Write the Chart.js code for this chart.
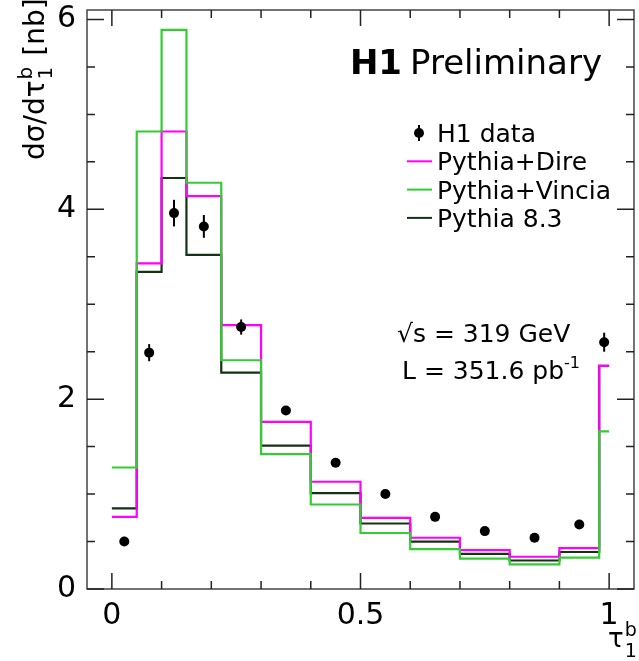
<!DOCTYPE html>
<html><head><meta charset="utf-8">
<script src="https://cdn.jsdelivr.net/npm/chart.js@4.4.0/dist/chart.umd.min.js"></script>
<style>html,body{margin:0;padding:0;background:#fff;}canvas{display:block;}</style>
</head><body>
<canvas id="c" width="639" height="661"></canvas>
<script>
// ---- data ----
const binEdges = [0, 0.05, 0.1, 0.15, 0.22, 0.3, 0.4, 0.5, 0.6, 0.7, 0.8, 0.9, 0.98, 1.0];
const direValues   = [0.76, 3.43, 4.82, 4.14, 2.78, 1.76, 1.13, 0.75, 0.54, 0.41, 0.34, 0.43, 2.35];
const vinciaValues = [1.28, 4.82, 5.89, 4.28, 2.41, 1.42, 0.89, 0.59, 0.42, 0.32, 0.26, 0.33, 1.66];
const pythiaValues = [0.85, 3.34, 4.33, 3.52, 2.28, 1.51, 1.01, 0.69, 0.50, 0.37, 0.30, 0.39, 2.35];
const dataX   = [0.025, 0.075, 0.125, 0.185, 0.26, 0.35, 0.45, 0.55, 0.65, 0.75, 0.85, 0.94, 0.99];
const dataY   = [0.50, 2.49, 3.96, 3.82, 2.76, 1.88, 1.33, 1.00, 0.76, 0.61, 0.54, 0.68, 2.60];
const dataErr = [0.02, 0.09, 0.14, 0.12, 0.08, 0.04, 0.03, 0.03, 0.02, 0.02, 0.02, 0.03, 0.10];
const xTickValues = [0, 0.5, 1];
const yTickValues = [0, 2, 4, 6];
const seriesLabels = ['H1 data', 'Pythia+Dire', 'Pythia+Vincia', 'Pythia 8.3'];

const FONT = "'DejaVu Sans', sans-serif";
const C_DIRE = '#ff00ff', C_VINCIA = '#33cc33', C_PYTHIA = '#143214';

function stepPoints(values) {
  return binEdges.map((e, i) => ({ x: e, y: values[Math.min(i, values.length - 1)] }));
}

function drawRich(ctx, parts, x, y) {
  let cx = x;
  parts.forEach(p => {
    ctx.font = (p.bold ? 'bold ' : '') + p.size + 'px ' + FONT;
    if (!p.stack) {
      ctx.fillText(p.t, cx, y + (p.dy || 0));
      cx += ctx.measureText(p.t).width + (p.gap || 0);
    } else {
      const w1 = ctx.measureText(p.t).width, w2 = ctx.measureText(p.t2).width;
      ctx.fillText(p.t, cx, y + p.dy);
      ctx.fillText(p.t2, cx, y + p.dy2);
      cx += Math.max(w1, w2) + (p.gap || 0);
    }
  });
  return cx;
}

const decor = {
  id: 'decor',
  afterDatasetsDraw(chart) {
    const { ctx, scales: { x, y } } = chart;
    ctx.save();
    ctx.strokeStyle = '#000'; ctx.lineWidth = 2;
    dataX.forEach((xv, i) => {
      const px = x.getPixelForValue(xv);
      ctx.beginPath();
      ctx.moveTo(px, y.getPixelForValue(dataY[i] - dataErr[i]));
      ctx.lineTo(px, y.getPixelForValue(dataY[i] + dataErr[i]));
      ctx.stroke();
    });
    ctx.restore();
  },
  afterDraw(chart) {
    const { ctx, chartArea: a, scales: { x, y } } = chart;
    ctx.save();
    ctx.strokeStyle = '#444'; ctx.lineWidth = 1.5;
    ctx.strokeRect(a.left, a.top, a.right - a.left, a.bottom - a.top);
    ctx.strokeStyle = '#222'; ctx.lineWidth = 1.5;
    ctx.beginPath();
    for (let k = 0; k <= 10; k++) {
      const px = x.getPixelForValue(k / 10);
      const len = (k % 5 === 0) ? 16 : 8;
      ctx.moveTo(px, a.bottom); ctx.lineTo(px, a.bottom - len);
      ctx.moveTo(px, a.top); ctx.lineTo(px, a.top + len);
    }
    for (let k = 0; k <= 12; k++) {
      const py = y.getPixelForValue(k * 0.5);
      const len = (k % 4 === 0) ? 17 : 8;
      ctx.moveTo(a.left, py); ctx.lineTo(a.left + len, py);
      ctx.moveTo(a.right, py); ctx.lineTo(a.right - len, py);
    }
    ctx.stroke();

    ctx.fillStyle = '#000';
    ctx.textBaseline = 'alphabetic';
    ctx.font = 'bold 34px ' + FONT;
    ctx.textAlign = 'right';
    ctx.fillText('H1', 402, 74);
    ctx.textAlign = 'left';
    ctx.font = '34px ' + FONT;
    ctx.fillText('Preliminary', 410, 74);

    const rows = [133, 161.3, 189.6, 217.9];
    const cols = [null, C_DIRE, C_VINCIA, C_PYTHIA];
    rows.forEach((ry, i) => {
      if (i === 0) {
        ctx.beginPath(); ctx.arc(419, ry, 5, 0, Math.PI * 2); ctx.fill();
        ctx.strokeStyle = '#000'; ctx.lineWidth = 2;
        ctx.beginPath(); ctx.moveTo(419, ry - 8); ctx.lineTo(419, ry + 8); ctx.stroke();
      } else {
        ctx.strokeStyle = cols[i]; ctx.lineWidth = 2;
        ctx.beginPath(); ctx.moveTo(407, ry); ctx.lineTo(432, ry); ctx.stroke();
      }
      ctx.font = '25px ' + FONT;
      ctx.fillText(seriesLabels[i], 437, ry + 9);
    });

    ctx.font = '25px ' + FONT;
    ctx.fillText('\u221As = 319 GeV', 397, 342);
    drawRich(ctx, [{ t: 'L = 351.6 pb', size: 25 }, { t: '-1', size: 16, dy: -11 }], 402, 379);

    drawRich(ctx, [{ t: '\u03C4', size: 26, gap: 1 }, { stack: true, t: 'b', t2: '1', size: 19, dy: -11, dy2: 10 }], 608, 647);

    ctx.save();
    ctx.translate(44, 160);
    ctx.rotate(-Math.PI / 2);
    drawRich(ctx, [{ t: 'd\u03C3/d\u03C4', size: 28, gap: 1 }, { stack: true, t: 'b', t2: '1', size: 20, dy: -12, dy2: 8, gap: 2 }, { t: ' [nb]', size: 28 }], 0, 0);
    ctx.restore();
    ctx.restore();
  }
};

const lineDs = (label, values, color, order) => ({
  type: 'line', label, data: stepPoints(values), stepped: 'before',
  borderColor: color, backgroundColor: color, borderWidth: 2.2,
  pointRadius: 0, fill: false, order
});

new Chart(document.getElementById('c'), {
  type: 'scatter',
  data: {
    datasets: [
      { type: 'scatter', label: seriesLabels[0], data: dataX.map((v, i) => ({ x: v, y: dataY[i] })),
        pointRadius: 5, pointHoverRadius: 5, backgroundColor: '#000', borderWidth: 0, order: 0 },
      lineDs(seriesLabels[1], direValues, C_DIRE, 2),
      lineDs(seriesLabels[2], vinciaValues, C_VINCIA, 1),
      lineDs(seriesLabels[3], pythiaValues, C_PYTHIA, 3)
    ]
  },
  options: {
    responsive: false, animation: false, devicePixelRatio: 1,
    layout: { padding: { top: 10, right: 1, left: 0, bottom: 0 } },
    plugins: { legend: { display: false }, tooltip: { enabled: false } },
    scales: {
      x: {
        type: 'linear', min: -0.05, max: 1.05,
        grid: { display: false }, border: { display: false },
        afterBuildTicks: s => { s.ticks = xTickValues.map(v => ({ value: v })); },
        afterFit: s => { s.height = 72; s.paddingLeft = 0; s.paddingRight = 0; },
        ticks: { font: { family: FONT, size: 30 }, color: '#000', padding: 1, maxRotation: 0, autoSkip: false, callback: v => String(v) }
      },
      y: {
        type: 'linear', min: 0, max: 6.1,
        grid: { display: false }, border: { display: false },
        afterBuildTicks: s => { s.ticks = yTickValues.map(v => ({ value: v })); },
        afterFit: s => { s.width = 87; s.paddingTop = 0; s.paddingBottom = 0; },
        ticks: { font: { family: FONT, size: 30 }, color: '#000', padding: 3, autoSkip: false, callback: v => String(v) }
      }
    }
  },
  plugins: [decor]
});
</script>
</body></html>
